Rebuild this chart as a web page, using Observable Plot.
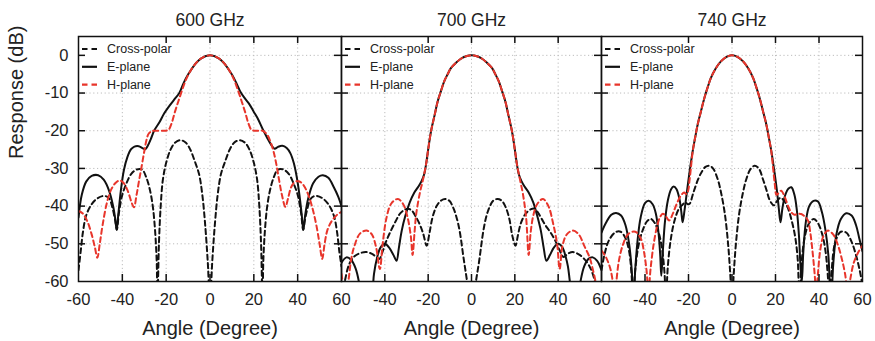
<!DOCTYPE html>
<html><head><meta charset="utf-8">
<script src="https://cdn.jsdelivr.net/npm/d3@7"></script>
<script src="https://cdn.jsdelivr.net/npm/@observablehq/plot@0.6"></script>
<style>
body{margin:0;background:#fff;}
#chart{display:flex;width:875px;height:341px;}
#chart svg{overflow:visible;background:transparent;flex:none;max-width:none;}
</style></head><body><div id="chart"></div>
<script>
const panels = ["600 GHz", "700 GHz", "740 GHz"];
const seriesNames = ["Cross-polar", "E-plane", "H-plane"];
const xLabelsFirst = [-60, -40, -20, 0, 20, 40, 60];
const xLabelsOther = [-40, -20, 0, 20, 40, 60];
const yLabels = [0, -10, -20, -30, -40, -50, -60];
const xGrid = [-40, -20, 0, 20, 40];
const yGrid = [0, -10, -20, -30, -40, -50];
const topTicks = [-20, 0, 20, 40];
const xLabel = "Angle (Degree)";
const yLabel = "Response (dB)";

// 600 GHz
const cross600 = [[-60,-57],[-59,-52],[-58,-47],[-56.5,-42.5],[-54,-39.5],[-51,-37.8],[-48,-37.3],[-46,-38],[-44.5,-40.5],[-43.2,-44],[-42.5,-46.3],[-41.6,-42],[-40,-37],[-38,-33.8],[-36,-31.5],[-33.5,-30.3],[-31,-30.3],[-29,-32.5],[-27.3,-36],[-26,-40.5],[-25,-47],[-24.3,-55],[-24,-66],[-23.3,-50],[-22.5,-40],[-21.5,-33],[-20,-28.5],[-18,-25],[-16,-23.2],[-13.5,-22.5],[-11,-23.2],[-9,-25],[-7,-28],[-5,-31.5],[-3.5,-37],[-2.2,-45],[-1,-55],[0,-66],[1,-55],[2.2,-45],[3.5,-37],[5,-31.5],[7,-28],[9,-25],[11,-23.2],[13.5,-22.5],[16,-23.2],[18,-25],[20,-28.5],[21.5,-33],[22.5,-40],[23.3,-50],[24,-66],[24.3,-55],[25,-47],[26,-40.5],[27.3,-36],[29,-32.5],[31,-30.3],[33.5,-30.3],[36,-31.5],[38,-33.8],[40,-37],[41.6,-42],[42.5,-46.3],[43.2,-44],[44.5,-40.5],[46,-38],[48,-37.3],[51,-37.8],[54,-39.5],[56.5,-42.5],[58,-47],[59,-52],[60,-56]];
const e600 = [[-60,-43],[-58.5,-37],[-56.5,-33.5],[-54,-32],[-51,-31.8],[-48.5,-33],[-46,-36],[-44.2,-40],[-43.2,-43.5],[-42.6,-46.3],[-41.8,-42],[-40.7,-36],[-39.3,-30.5],[-37.7,-27],[-36,-24.9],[-34.5,-24.2],[-32.5,-24.1],[-30.8,-24.6],[-29.5,-24.9],[-28.4,-24],[-27,-22.2],[-25.5,-20],[-23,-17.7],[-21,-15.5],[-18,-13],[-16,-11.5],[-14,-10],[-12,-7.3],[-10,-5.1],[-7,-2.5],[-4,-0.8],[0,0],[4,-0.8],[7,-2.5],[10,-5.1],[12,-7.3],[14,-9.8],[16,-11.5],[18,-13],[20,-15],[22,-17],[24,-19.5],[26,-21.8],[28,-23.8],[29.5,-24.8],[31,-24.3],[33,-24],[35,-24.6],[36.7,-26],[38.2,-28.5],[39.5,-32],[40.8,-37],[41.8,-42],[42.6,-46.3],[43.4,-42.5],[44.8,-38],[47,-34],[49.5,-32.2],[51.5,-31.8],[54,-32.5],[56.5,-35],[58.5,-37.5],[60,-40]];
const h600 = [[-60,-41.3],[-58,-42],[-56,-44],[-54,-47.5],[-52.5,-51],[-51.4,-53.7],[-50.3,-50],[-49,-45],[-47,-39],[-45,-35.5],[-43,-33.8],[-41.3,-33.2],[-39.5,-33.8],[-37.5,-36],[-35.8,-39],[-34.7,-40.3],[-33.5,-37],[-32.3,-33],[-31.2,-29.5],[-30,-25.5],[-29,-22.5],[-28,-20.8],[-26.5,-20.1],[-24,-20],[-21,-20],[-19,-19.8],[-17.5,-18],[-16,-15],[-14.5,-12.3],[-13,-9.7],[-11,-6.5],[-9,-4.2],[-6,-1.8],[-3,-0.45],[0,0],[3,-0.45],[6,-1.8],[9,-4.2],[11,-6.5],[13,-9.7],[14.5,-12.3],[16,-15],[17.5,-18],[19,-19.8],[21,-20],[24,-20],[26,-21],[27.5,-22.8],[29,-25.5],[30.3,-29],[31.5,-33],[32.8,-37],[34.4,-40.2],[35.6,-38],[37,-35],[38.8,-33.6],[40.5,-33.4],[42.5,-34.3],[44.5,-36.5],[46.5,-40],[48.5,-45],[50,-50],[51.2,-54],[52.3,-50],[53.5,-46.5],[55.5,-44],[58,-42.3],[60,-41.5]];

// 700 GHz
const cross700 = [[-60,-64],[-58.5,-60],[-56.5,-55.5],[-54,-53.3],[-51,-52.4],[-48.4,-52.2],[-45.5,-52.8],[-43.5,-53.8],[-42.5,-54],[-41,-52],[-39.5,-49.5],[-37.6,-47],[-35,-44],[-33,-42],[-31,-41],[-29.3,-40.7],[-27.5,-41.2],[-26,-42.5],[-24,-44.7],[-22.3,-47.3],[-20.7,-50.5],[-19.5,-47.5],[-18,-43],[-16.1,-40],[-14,-38.5],[-12.1,-38.1],[-10.2,-38.6],[-8.3,-40.6],[-6.9,-43],[-5.5,-46.5],[-3.6,-54],[-1.8,-61],[0,-70],[1.8,-61],[3.5,-54.7],[5.7,-45.8],[7.5,-41.5],[10,-38.6],[12.1,-38.1],[14,-38.6],[15.8,-40.3],[17.5,-43.5],[18.9,-48],[20.3,-50.5],[21.5,-47.5],[22.8,-44.5],[25,-42],[27.5,-40.8],[29.2,-40.7],[31,-42],[33,-44],[34.6,-45.5],[36.5,-47],[38.5,-49],[40.5,-51.5],[42.5,-53.5],[44.5,-52.6],[46.8,-52.2],[49.5,-52.8],[52,-54],[54.5,-56],[56.5,-59],[58.4,-64],[60,-66]];
const e700 = [[-60,-55],[-57.7,-53.6],[-55.5,-54.3],[-53.5,-56.5],[-52,-60],[-50.8,-66],[-48.5,-70],[-46.2,-66],[-45,-58],[-43.5,-53.5],[-42,-51],[-40,-50],[-38,-51],[-36,-53],[-34.6,-54.5],[-33.5,-51],[-32.2,-46.5],[-30.5,-42.5],[-28.5,-39],[-26.5,-36.5],[-24.5,-34.8],[-23,-33.3],[-21.8,-31.5],[-21,-29],[-20,-25],[-18.7,-20.2],[-17,-15.8],[-15.6,-12.2],[-14,-9.3],[-12.6,-6.9],[-11,-5],[-9.5,-3.4],[-7,-1.9],[-4.9,-0.9],[-2.5,-0.25],[0,0],[2.5,-0.25],[4.9,-0.9],[7,-1.9],[9.5,-3.4],[11,-5],[12.6,-6.9],[14,-9.3],[15.6,-12.2],[17,-15.8],[18.7,-20.2],[20,-25],[21,-29],[21.8,-31.5],[23,-33.3],[24.5,-34.8],[26.5,-36.5],[28.5,-39],[30.3,-42.5],[32,-46.5],[33.3,-51],[34.6,-54.5],[36.2,-53],[38,-51],[40,-50],[42,-51],[43.5,-53.5],[44.5,-56],[45.4,-60],[47.8,-70],[50.3,-60],[52,-56],[54,-54],[56,-53.6],[58,-54.5],[60,-57]];
const h700 = [[-60,-58],[-58.3,-63],[-56.9,-60],[-55.5,-54],[-54,-50.5],[-51.5,-47.3],[-48.4,-46.5],[-46,-47.5],[-44,-51],[-42.3,-56.7],[-41,-50],[-39.2,-43],[-37,-39.3],[-34,-38.1],[-31.5,-39.5],[-29.5,-43],[-28,-48],[-27.2,-53],[-26.3,-47],[-25.5,-42],[-23.8,-36.4],[-22.5,-33.3],[-21,-29],[-20,-25],[-18.7,-20.2],[-17,-15.8],[-15.6,-12.2],[-14,-9.3],[-12.6,-6.9],[-11,-5],[-9.5,-3.4],[-7,-1.9],[-4.9,-0.9],[-2.5,-0.25],[0,0],[2.5,-0.25],[4.9,-0.9],[7,-1.9],[9.5,-3.4],[11,-5],[12.6,-6.9],[14,-9.3],[15.6,-12.2],[17,-15.8],[18.7,-20.2],[20,-25],[21,-29],[22.5,-33.3],[23.8,-37],[25.2,-43],[26.4,-53],[27.3,-47],[28.6,-42.3],[30.5,-39.3],[33,-38.1],[35.5,-40],[37.6,-44.4],[39.5,-50],[40.7,-56.7],[42,-50.5],[44,-47.5],[46.8,-46.5],[49.5,-47.5],[52,-50.5],[54.5,-53.6],[56.5,-58],[58.4,-62],[60,-60]];

// 740 GHz
const cross740 = [[-60,-57],[-58.5,-52.5],[-56.5,-49],[-53.5,-46.9],[-51.2,-46.8],[-49,-48.5],[-47.3,-52],[-46.2,-58],[-45.5,-65],[-44.5,-57],[-43,-50.5],[-41,-46.3],[-39,-44],[-37.3,-43.4],[-35.5,-44.5],[-33.5,-47.5],[-32,-52],[-31,-58],[-30.4,-65],[-29.5,-56],[-28.2,-49],[-26.5,-44],[-24.5,-40.8],[-23,-39.8],[-21.5,-39],[-20.3,-39.5],[-19.5,-39.4],[-17.8,-36.5],[-15.8,-33.2],[-14,-31],[-12.2,-29.6],[-10.3,-29.3],[-8.5,-30.2],[-6.5,-33],[-5,-36.5],[-3.3,-42],[-1.8,-50],[-0.8,-58],[0,-66],[0.8,-58],[1.8,-50],[3.3,-42],[5,-36.5],[6.5,-33],[8.5,-30.2],[10.4,-29.3],[12.3,-30],[14.3,-33],[16,-36],[17.4,-38.5],[19.3,-39.8],[20.5,-38.8],[22.3,-37.8],[24,-38.6],[25.7,-40.5],[27.5,-44],[29,-48],[30.2,-54],[31,-65],[32,-55],[33.5,-48],[35.5,-44.5],[37.6,-43.4],[39.5,-44.5],[41.5,-47.5],[43,-52],[44,-58],[44.8,-65],[45.8,-57],[47.5,-49.5],[50,-46.8],[52.5,-47],[55,-49.5],[57,-53],[58.7,-57],[60,-61]];
const e740 = [[-60,-47],[-58,-44.5],[-55.5,-42.3],[-53.3,-41.8],[-51,-42.5],[-49,-45],[-47.3,-50],[-46.1,-57],[-45.3,-66],[-44.5,-57],[-43.4,-49],[-42,-43],[-40,-39.2],[-38.3,-38.6],[-36.5,-39.5],[-35,-42],[-33.8,-47],[-33,-53],[-32.5,-58.5],[-31.8,-52],[-30.8,-44],[-29.5,-38.5],[-28,-35.5],[-26.8,-34.8],[-25.5,-35.5],[-24.2,-38],[-23.3,-41.5],[-22.7,-44.3],[-21.8,-41],[-20.7,-36.1],[-19.7,-31.7],[-18.1,-25.5],[-17,-22],[-15.8,-18.4],[-14.2,-14.7],[-12.7,-11.3],[-11.2,-8.5],[-9.7,-6],[-7.5,-3.5],[-5.1,-1.6],[-2.5,-0.4],[0,0],[2.5,-0.4],[5.1,-1.6],[7.5,-3.5],[9.7,-6],[11.2,-8.5],[12.7,-11.3],[14.2,-14.7],[15.8,-18.4],[17,-22],[18.1,-25.5],[19.7,-31.7],[20.7,-36.1],[21.5,-40.5],[22.3,-44.3],[23.2,-40.5],[24.5,-37],[26,-35.3],[27.3,-35],[28.7,-37],[29.8,-41],[30.8,-48],[31.5,-56],[32.1,-60],[32.8,-52],[34,-44],[35.5,-40],[37.5,-38.6],[39.5,-38.8],[41.3,-41.5],[43,-46.5],[44.3,-53],[45.5,-66],[46.6,-55],[48,-47.5],[50,-43.5],[52.5,-41.9],[55,-42.5],[57,-45],[58.5,-48.5],[60,-52]];
const h740 = [[-60,-51.8],[-58,-53.5],[-56,-56.5],[-54.8,-60],[-54,-63],[-53.2,-60],[-52,-54.5],[-50,-50],[-47.5,-47.3],[-44.5,-46.8],[-42,-48.5],[-40.5,-52],[-39.3,-57],[-38.4,-63],[-37.5,-57],[-36,-50],[-34.5,-45.5],[-33,-42.8],[-31.8,-42],[-30.3,-42.8],[-28.9,-43.8],[-27.2,-42],[-25.5,-39.5],[-23.5,-37.2],[-22,-36.4],[-21,-36.8],[-20.2,-36],[-19.5,-33],[-18.9,-29.9],[-18.1,-25.6],[-17,-22],[-15.8,-18.4],[-14.2,-14.7],[-12.7,-11.3],[-11.2,-8.5],[-9.7,-6],[-7.5,-3.5],[-5.1,-1.6],[-2.5,-0.4],[0,0],[2.5,-0.4],[5.1,-1.6],[7.5,-3.5],[9.7,-6],[11.2,-8.5],[12.7,-11.3],[14.2,-14.7],[15.8,-18.4],[17,-22],[18.1,-25.6],[18.9,-29.9],[19.7,-34.3],[20.4,-37],[21.3,-36.6],[22.6,-35.9],[24.2,-37.5],[26,-40.3],[27.2,-41.6],[28.7,-42.3],[30.3,-42],[31.8,-42.1],[33.5,-42.8],[34.9,-43.8],[36,-47],[37.2,-53],[38,-58],[38.7,-63],[39.5,-58],[40.5,-52],[42,-48],[44.1,-46.5],[46.5,-47.5],[48.5,-50],[50.5,-54],[52,-58],[53.3,-63],[54.5,-59],[56,-55],[58.3,-52],[60,-50.5]];

const panelSeries = [
  [cross600, e600, h600],
  [cross700, e700, h700],
  [cross740, e740, h740]
];
const seriesStyle = {
  "Cross-polar": {stroke: "#111", dash: "5,3.5"},
  "E-plane": {stroke: "#111", dash: null},
  "H-plane": {stroke: "#e8352b", dash: "5,3.5"}
};

const H = 341, MT = 36, MB = 60;
const widths = [341, 260, 274];
const mLeft = [78, 0, 0];
const mRight = [0, 0, 13];
const font = "'Liberation Sans', Arial, Helvetica, sans-serif";
const chart = document.getElementById("chart");

panels.forEach((title, i) => {
  const W = widths[i], ml = mLeft[i], mr = mRight[i];
  const pw = W - ml - mr, ph = H - MT - MB;
  const rows = seriesNames.flatMap((s, k) => panelSeries[i][k].map(([a, d]) => ({series: s, angle: a, db: d})));

  const legend = () => {
    const g = d3.create("svg:g").attr("font-size", 12.5).attr("fill", "#222").attr("text-anchor", "start");
    seriesNames.forEach((s, k) => {
      const y = MT + 13 + k * 17.8;
      const st = seriesStyle[s];
      g.append("line").attr("x1", ml + 4).attr("x2", ml + 19).attr("y1", y).attr("y2", y)
        .attr("stroke", st.stroke).attr("stroke-width", 2.2)
        .attr("stroke-dasharray", st.dash ? "5.5,4" : null);
      g.append("text").attr("x", ml + 29).attr("y", y).attr("dy", "0.35em")
        .attr("text-anchor", "start").text(s);
    });
    return g.node();
  };

  const marks = [
    Plot.ruleY(yGrid, {stroke: "#bdbdbd", strokeDasharray: "1.2,2.6", strokeWidth: 1}),
    Plot.ruleX(xGrid, {stroke: "#bdbdbd", strokeDasharray: "1.2,2.6", strokeWidth: 1}),
    Plot.frame({fill: "white", stroke: "none", insetLeft: 1, insetTop: 1, insetRight: pw - 122, insetBottom: ph - 54}),
    ...seriesNames.map(s => Plot.line(rows.filter(r => r.series === s), {
      x: "angle", y: "db", stroke: seriesStyle[s].stroke, strokeWidth: 2,
      strokeDasharray: seriesStyle[s].dash, curve: "catmull-rom", clip: true
    })),
    Plot.tickY(yGrid, {y: d => d, insetRight: pw - 7, stroke: "#111", strokeWidth: 1.5}),
    Plot.tickY(yGrid, {y: d => d, insetLeft: pw - 7, stroke: "#111", strokeWidth: 1.5}),
    Plot.tickX(topTicks, {x: d => d, insetBottom: ph - 7, stroke: "#111", strokeWidth: 1.5}),
    Plot.tickX(xGrid, {x: d => d, insetTop: ph - 7, stroke: "#111", strokeWidth: 1.5}),
    Plot.frame({stroke: "#111", strokeWidth: 1.5}),
    Plot.axisX({ticks: i === 0 ? xLabelsFirst : xLabelsOther, tickSize: 0, tickPadding: 12, fontSize: 16.5, label: null, tickFormat: d => String(d)}),
    Plot.text([title], {text: d => d, frameAnchor: "top", dy: -11, lineAnchor: "bottom", fontSize: 17.5, fill: "#222"}),
    Plot.text([xLabel], {text: d => d, frameAnchor: "bottom", dy: 53, lineAnchor: "bottom", fontSize: 20, fill: "#222"}),
    legend
  ];
  if (i === 0) {
    marks.push(Plot.axisY({ticks: yLabels, tickSize: 0, tickPadding: 10, fontSize: 16.5, label: null, tickFormat: d => String(d)}));
    marks.push(Plot.text([yLabel], {text: d => d, frameAnchor: "left", dx: -62, rotate: -90, fontSize: 20, fill: "#222"}));
  }

  const svg = Plot.plot({
    width: W, height: H,
    marginLeft: ml, marginRight: mr, marginTop: MT, marginBottom: MB,
    x: {domain: [-60, 60]},
    y: {domain: [-60, 5], axis: i === 0 ? undefined : null},
    style: {fontFamily: font, background: "transparent", overflow: "visible", color: "#222"},
    marks
  });
  chart.appendChild(svg);
});
</script></body></html>
